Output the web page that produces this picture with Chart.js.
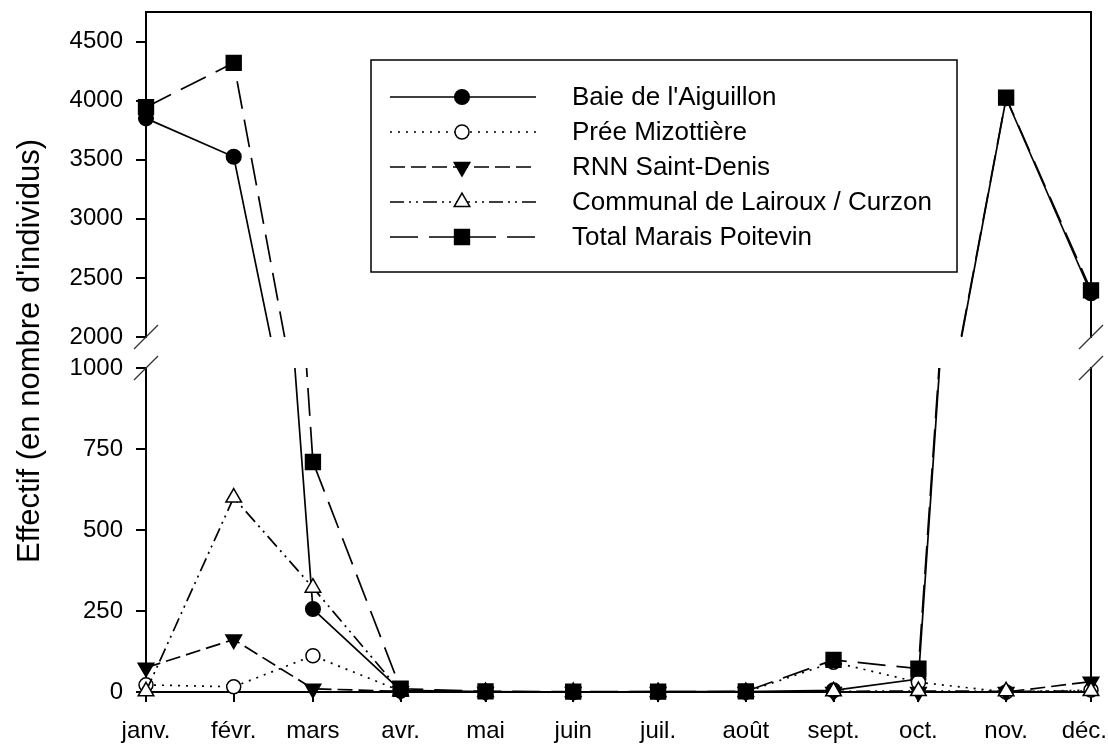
<!DOCTYPE html>
<html lang="fr">
<head>
<meta charset="utf-8">
<title>Effectif mensuel - Marais Poitevin</title>
<script src="https://cdn.jsdelivr.net/npm/chart.js@4.4.1/dist/chart.umd.min.js"></script>
<style>
  html, body { margin: 0; padding: 0; background: #fff; }
  #wrap { position: relative; width: 1108px; height: 746px; overflow: hidden; }
  canvas { position: absolute; left: 0; }
  #haut { top: 0; }
  #bas { top: 352px; }
  #titreY {
    position: absolute; left: -224px; top: 336px; width: 500px; height: 30px;
    line-height: 30px; text-align: center; white-space: nowrap;
    font: 31px "Liberation Sans", Arial, sans-serif; color: #000;
    transform: rotate(-90deg);
  }
</style>
</head>
<body>
<div id="wrap">
  <canvas id="haut" width="1108" height="352"></canvas>
  <canvas id="bas" width="1108" height="394"></canvas>
  <div id="titreY">Effectif (en nombre d'individus)</div>
</div>
<script>
// mois (axe des x = date du 1er de chaque mois)
const mois = ['janv.', 'févr.', 'mars', 'avr.', 'mai', 'juin', 'juil.', 'août', 'sept.', 'oct.', 'nov.', 'déc.'];

// effectifs
const baieAiguillon = [3850, 3525, 256, 5, 1, 0, 1, 1, 5, 40, 4020, 2370];
const preeMizottiere = [22, 16, 112, 3, 0, 0, 0, 0, 92, 30, 0, 6];
const rnnSaintDenis = [75, 162, 10, 2, 0, 0, 0, 0, 0, 0, 0, 32];
const communalLairoux = [2, 600, 322, 2, 0, 0, 0, 0, 2, 3, 2, 3];
const totalMarais = [3945, 4320, 710, 10, 2, 1, 1, 2, 99, 72, 4025, 2395];

// graduations de l'axe coupé
const ticksHaut = [2000, 2500, 3000, 3500, 4000, 4500];
const ticksBas = [0, 250, 500, 750, 1000];

// jour de l'année du 1er de chaque mois
const joursMois = mois.map((m, i) => Math.round((Date.UTC(2023, i, 1) - Date.UTC(2023, 0, 1)) / 86400000));

const police = '"Liberation Sans", Arial, sans-serif';

const series = [
  { label: "Baie de l'Aiguillon", values: baieAiguillon, dash: [], point: 'circle', radius: 7.3, fill: '#000' },
  { label: 'Prée Mizottière', values: preeMizottiere, dash: [2, 6], point: 'circle', radius: 7, fill: '#fff' },
  { label: 'RNN Saint-Denis', values: rnnSaintDenis, dash: [15, 6], point: 'triangle', radius: 9, rotation: 180, fill: '#000' },
  { label: 'Communal de Lairoux / Curzon', values: communalLairoux, dash: [14, 5, 2, 5, 2, 5], point: 'triangle', radius: 9, fill: '#fff' },
  { label: 'Total Marais Poitevin', values: totalMarais, dash: [28, 11], point: 'rect', radius: 10.5, fill: '#000' }
];

function makeDatasets(clip) {
  return series.map((s, i) => ({
    label: s.label,
    data: s.values.map((v, k) => ({ x: joursMois[k], y: v })),
    borderColor: '#000',
    borderWidth: 1.7,
    borderDash: s.dash,
    tension: 0,
    fill: false,
    pointStyle: s.point,
    pointRadius: s.radius,
    pointRotation: s.rotation || 0,
    pointBackgroundColor: s.fill,
    pointBorderColor: '#000',
    pointBorderWidth: 1.5,
    clip: clip,
    order: series.length - 1 - i
  }));
}

// petits traits obliques de la coupure d'axe
function coupure(cote) {
  return {
    id: 'coupure',
    afterDraw(chart) {
      const { ctx, chartArea: a } = chart;
      const y = cote === 'bas' ? a.bottom : a.top;
      ctx.save();
      ctx.strokeStyle = '#333';
      ctx.lineWidth = 1.2;
      [a.left, a.right].forEach(x => {
        ctx.beginPath();
        ctx.moveTo(x - 12, y + 12);
        ctx.lineTo(x + 12, y - 12);
        ctx.stroke();
      });
      ctx.restore();
    }
  };
}

const legende = {
  id: 'legende',
  afterDraw(chart) {
    const ctx = chart.ctx;
    ctx.save();
    ctx.fillStyle = '#fff';
    ctx.fillRect(371, 60, 586, 212);
    ctx.strokeStyle = '#000';
    ctx.lineWidth = 1.5;
    ctx.strokeRect(371, 60, 586, 212);
    series.forEach((s, i) => {
      const y = 97 + i * 35;
      ctx.setLineDash(s.dash);
      ctx.lineWidth = 1.7;
      ctx.beginPath();
      ctx.moveTo(390, y);
      ctx.lineTo(536, y);
      ctx.stroke();
      ctx.setLineDash([]);
      ctx.fillStyle = s.fill;
      ctx.lineWidth = 1.5;
      Chart.helpers.drawPoint(ctx, { pointStyle: s.point, radius: s.radius, rotation: s.rotation || 0, borderWidth: 1.5 }, 462, y);
      ctx.fillStyle = '#000';
      ctx.font = '26px ' + police;
      ctx.textBaseline = 'middle';
      ctx.fillText(s.label, 572, y + 1);
    });
    ctx.restore();
  }
};

const axeY = (min, max, ticks) => ({
  type: 'linear',
  position: 'left',
  min: min,
  max: max,
  afterBuildTicks: s => { s.ticks = ticks.map(v => ({ value: v })); },
  ticks: { color: '#000', font: { family: police, size: 24 }, padding: 13, callback: v => String(v) },
  grid: { drawOnChartArea: false, drawTicks: true, tickLength: 10, color: '#000', tickColor: '#000', lineWidth: 2 },
  border: { display: true, color: '#000', width: 2 },
  afterFit: s => { s.width = 146; s.paddingTop = 0; s.paddingBottom = 0; }
});

const axeDroit = {
  type: 'linear',
  position: 'right',
  ticks: { display: false },
  grid: { display: false },
  border: { display: true, color: '#000', width: 2 },
  afterFit: s => { s.width = 0; s.paddingTop = 0; s.paddingBottom = 0; }
};

const communs = {
  responsive: false,
  animation: false,
  events: [],
  plugins: { legend: { display: false }, tooltip: { enabled: false } }
};

// partie haute : 2000 - 4750
new Chart(document.getElementById('haut'), {
  type: 'line',
  data: { datasets: makeDatasets({ left: 12, right: 12, top: 12, bottom: 0 }) },
  options: {
    ...communs,
    layout: { padding: { top: 12, right: 17, bottom: 15, left: 0 } },
    scales: {
      x: {
        type: 'linear', position: 'top', min: 0, max: joursMois[joursMois.length - 1],
        ticks: { display: false },
        grid: { display: false },
        border: { display: true, color: '#000', width: 2 },
        afterFit: s => { s.height = 0; s.paddingLeft = 0; s.paddingRight = 0; }
      },
      y: axeY(2000, 4750, ticksHaut),
      droite: axeDroit
    }
  },
  plugins: [legende, coupure('bas')]
});

// partie basse : 0 - 1000
new Chart(document.getElementById('bas'), {
  type: 'line',
  data: { datasets: makeDatasets({ left: 12, right: 12, top: 0, bottom: 12 }) },
  options: {
    ...communs,
    layout: { padding: { top: 16, right: 17, bottom: 0, left: 0 } },
    scales: {
      x: {
        type: 'linear', position: 'bottom', min: 0, max: joursMois[joursMois.length - 1],
        afterBuildTicks: s => { s.ticks = joursMois.map(v => ({ value: v })); },
        ticks: {
          color: '#000', font: { family: police, size: 24 }, padding: 15, maxRotation: 0, autoSkip: false,
          // le dernier mois est décalé vers la gauche pour rester dans le cadre
          callback: v => {
            const i = joursMois.indexOf(v);
            return i === mois.length - 1 ? mois[i] + '\u00a0\u00a0' : (mois[i] || '');
          }
        },
        grid: { drawOnChartArea: false, drawTicks: true, tickLength: 10, color: '#000', tickColor: '#000', lineWidth: 2 },
        border: { display: true, color: '#000', width: 2 },
        afterFit: s => { s.height = 54; s.paddingLeft = 0; s.paddingRight = 0; }
      },
      y: axeY(0, 1000, ticksBas),
      droite: axeDroit
    }
  },
  plugins: [coupure('haut')]
});
</script>
</body>
</html>
